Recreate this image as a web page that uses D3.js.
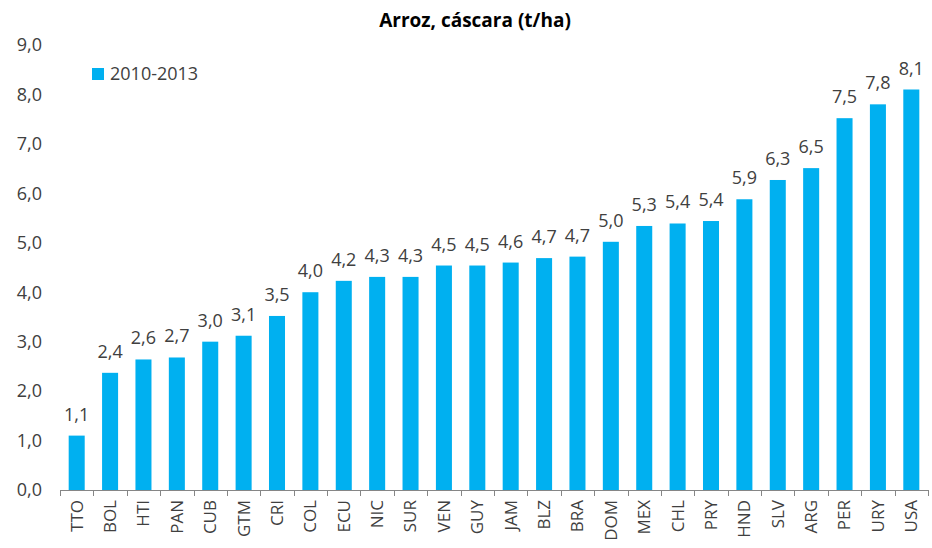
<!DOCTYPE html>
<html>
<head>
<meta charset="utf-8">
<script src="https://cdn.jsdelivr.net/npm/d3@7"></script>
<style>
  body { margin: 0; background: #fff; }
  text { font-family: "Open Sans", Lato, sans-serif; }
</style>
</head>
<body>
<div class="chart"></div>
<script>
// DATA ------------------------------

const countries = ["TTO", "BOL", "HTI", "PAN", "CUB", "GTM", "CRI", "COL", "ECU", "NIC",
  "SUR", "VEN", "GUY", "JAM", "BLZ", "BRA", "DOM", "MEX", "CHL", "PRY",
  "HND", "SLV", "ARG", "PER", "URY", "USA"];
const yields = [1.1, 2.37, 2.64, 2.68, 3.0, 3.12, 3.52, 4.0, 4.23, 4.31,
  4.31, 4.54, 4.54, 4.6, 4.69, 4.72, 5.02, 5.34, 5.39, 5.44,
  5.88, 6.27, 6.51, 7.52, 7.8, 8.1];
const yTicks = [0, 1, 2, 3, 4, 5, 6, 7, 8, 9];
const seriesName = "2010-2013";
const title = "Arroz, cáscara (t/ha)";

const data = countries.map((c, i) => ({ country: c, value: yields[i] }));

// CHART INIT ------------------------------

const margin = { top: 45, left: 60, right: 4, bottom: 58 };
const totalWidth = 932;
const totalHeight = 548;
const width = totalWidth - margin.left - margin.right,
  height = totalHeight - margin.top - margin.bottom;

const svgRoot = d3
  .select(".chart")
  .append("svg")
  .attr("width", totalWidth)
  .attr("height", totalHeight);

const svg = svgRoot
  .append("g")
  .attr("transform", "translate(" + margin.left + "," + margin.top + ")");

const xScale = d3.scaleBand().domain(countries).range([0, width]).paddingInner(0.52).paddingOuter(0.26);
const yScale = d3.scaleLinear().domain([0, 9]).range([height, 0]);

const fmt = (v) => d3.format(".1f")(v).replace(".", ",");

// title
svgRoot.append("text")
  .attr("x", 475)
  .attr("y", 27)
  .attr("text-anchor", "middle")
  .attr("font-size", 19)
  .attr("font-weight", "bold")
  .attr("fill", "#000")
  .text(title);

// y axis labels (no line)
svg.selectAll(".ytick")
  .data(yTicks)
  .enter()
  .append("text")
  .attr("class", "ytick")
  .attr("x", -18)
  .attr("y", (d) => yScale(d))
  .attr("dy", "0.35em")
  .attr("text-anchor", "end")
  .attr("font-size", 18)
  .attr("fill", "#404040")
  .text((d) => fmt(d));

// bars
svg.selectAll(".bar")
  .data(data)
  .enter()
  .append("rect")
  .attr("class", "bar")
  .attr("x", (d) => xScale(d.country))
  .attr("y", (d) => yScale(d.value))
  .attr("width", xScale.bandwidth())
  .attr("height", (d) => height - yScale(d.value))
  .attr("fill", "#00B0F0");

// value labels
svg.selectAll(".val")
  .data(data)
  .enter()
  .append("text")
  .attr("class", "val")
  .attr("x", (d) => xScale(d.country) + xScale.bandwidth() / 2)
  .attr("y", (d) => yScale(d.value) - 15)
  .attr("text-anchor", "middle")
  .attr("font-size", 18)
  .attr("fill", "#404040")
  .text((d) => fmt(d.value));

// x axis line and tick marks at category boundaries
const boundaries = d3.range(countries.length + 1).map((i) => i * width / countries.length);

svg.append("line")
  .attr("x1", 0)
  .attr("x2", width)
  .attr("y1", height + 0.5)
  .attr("y2", height + 0.5)
  .attr("stroke", "#868686")
  .attr("stroke-width", 1);

svg.selectAll(".xtick")
  .data(boundaries)
  .enter()
  .append("line")
  .attr("class", "xtick")
  .attr("x1", (d) => Math.round(d) + 0.5)
  .attr("x2", (d) => Math.round(d) + 0.5)
  .attr("y1", height)
  .attr("y2", height + 6)
  .attr("stroke", "#868686");

// x labels, rotated
svg.selectAll(".xlabel")
  .data(countries)
  .enter()
  .append("text")
  .attr("class", "xlabel")
  .attr("transform", (d) => `translate(${xScale(d) + xScale.bandwidth() / 2}, ${height + 10}) rotate(-90)`)
  .attr("text-anchor", "end")
  .attr("dy", "0.35em")
  .attr("font-size", 17)
  .attr("fill", "#404040")
  .text((d) => d);

// legend
const legend = svgRoot.append("g").attr("transform", "translate(92, 68)");
legend.append("rect")
  .attr("width", 12)
  .attr("height", 12)
  .attr("fill", "#00B0F0");
legend.append("text")
  .attr("x", 18)
  .attr("y", 6)
  .attr("dy", "0.35em")
  .attr("font-size", 18)
  .attr("fill", "#404040")
  .text(seriesName);
</script>
</body>
</html>
